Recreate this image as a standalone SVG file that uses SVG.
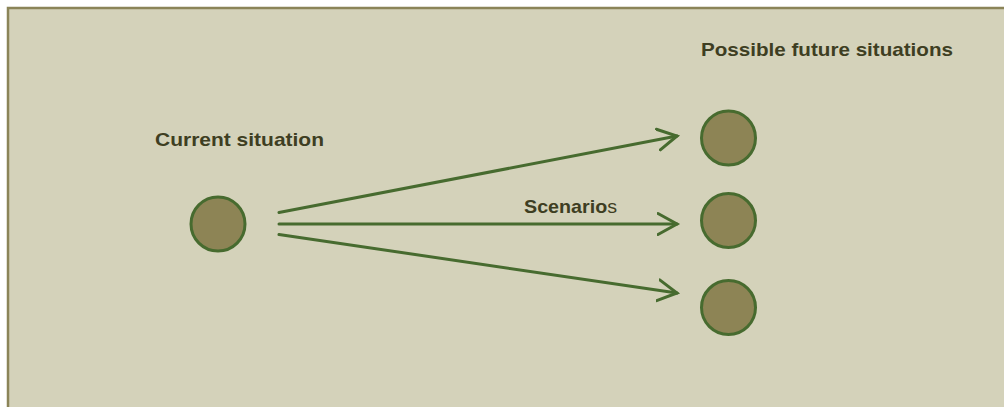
<svg xmlns="http://www.w3.org/2000/svg" width="1004" height="407" viewBox="0 0 1004 407">
<defs>
<style>
.node{fill:#8d8455;stroke:#476b2f;stroke-width:3}
.conn{stroke:#476b2f;stroke-width:3;fill:none;stroke-linecap:round}
.lbl{font-family:"Liberation Sans",Arial,sans-serif;font-weight:bold;font-size:19px;fill:#3e3e22}
</style>
<marker id="arr" markerUnits="userSpaceOnUse" markerWidth="24" markerHeight="26" refX="20" refY="12" orient="auto" viewBox="0 0 24 24">
<path d="M1,1.5 L20,12 L1,22.5" fill="none" stroke="#476b2f" stroke-width="3" stroke-linecap="round" stroke-linejoin="miter"/>
</marker>
</defs>
<rect x="0" y="0" width="1004" height="407" fill="#ffffff"/>
<rect x="8" y="8" width="1000" height="405" fill="#d4d2ba" stroke="#8b8458" stroke-width="2.5"/>
<g id="connectors">
<line class="conn" x1="279" y1="212.5" x2="677" y2="136" marker-end="url(#arr)"/>
<line class="conn" x1="279" y1="224" x2="677" y2="224" marker-end="url(#arr)"/>
<line class="conn" x1="279" y1="234.5" x2="677" y2="293" marker-end="url(#arr)"/>
</g>
<g id="current">
<circle class="node" cx="218" cy="224" r="27"/>
<text class="lbl" x="155" y="145.5" textLength="169" lengthAdjust="spacingAndGlyphs">Current situation</text>
</g>
<g id="future1"><circle class="node" cx="728.5" cy="138" r="27"/></g>
<g id="future2"><circle class="node" cx="728.5" cy="220.5" r="27"/></g>
<g id="future3"><circle class="node" cx="728.5" cy="307.5" r="27"/></g>
<g id="future-label">
<text class="lbl" x="701" y="56" textLength="252" lengthAdjust="spacingAndGlyphs">Possible future situations</text>
</g>
<g id="scenarios-label">
<text class="lbl" x="524" y="212.5" textLength="93" lengthAdjust="spacingAndGlyphs">Scenario<tspan font-weight="normal">s</tspan></text>
</g>
</svg>
